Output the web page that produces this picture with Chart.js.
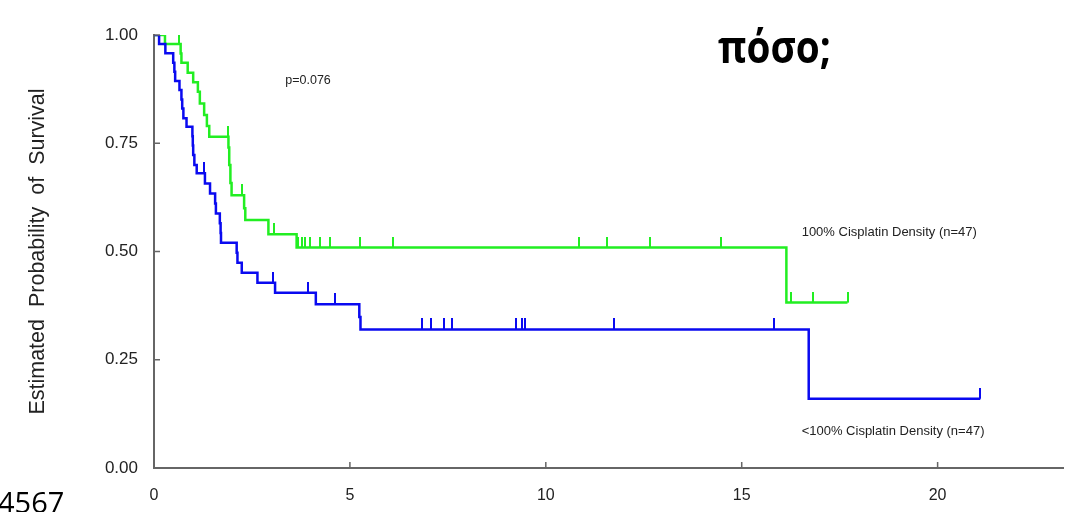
<!DOCTYPE html>
<html>
<head>
<meta charset="utf-8">
<script src="https://cdn.jsdelivr.net/npm/chart.js@4.4.1/dist/chart.umd.min.js"></script>
<style>
  body { margin: 0; background: #fff; }
  #km { display: block; }
</style>
</head>
<body>
<canvas id="km" width="1076" height="512"></canvas>
<script>
// step points (time in years, survival)
const greenTimes = [0, 0.28, 0.68, 0.70, 0.86, 1.00, 1.12, 1.17, 1.28, 1.35, 1.41, 1.90, 1.92, 1.95, 1.98, 2.30, 2.33, 2.92, 3.64, 16.14, 17.70];
const greenSurv  = [1.0, 0.979, 0.957, 0.936, 0.913, 0.891, 0.869, 0.842, 0.815, 0.790, 0.765, 0.740, 0.700, 0.658, 0.630, 0.600, 0.573, 0.540, 0.509, 0.382, 0.382];
const greenCensor = [0.64, 1.88, 2.24, 3.05, 3.68, 3.77, 3.85, 3.99, 4.23, 4.50, 5.26, 6.10, 10.84, 11.56, 12.65, 14.48, 16.27, 16.82, 17.70];

const blueTimes = [0, 0.13, 0.29, 0.49, 0.52, 0.54, 0.65, 0.70, 0.72, 0.75, 0.83, 0.98, 0.99, 1.00, 1.03, 1.09, 1.30, 1.43, 1.56, 1.58, 1.68, 1.70, 1.71, 2.11, 2.13, 2.24, 2.64, 3.09, 4.13, 5.24, 5.27, 16.71, 21.09];
const blueSurv  = [1.0, 0.979, 0.958, 0.936, 0.915, 0.894, 0.873, 0.851, 0.830, 0.808, 0.788, 0.766, 0.745, 0.723, 0.700, 0.681, 0.657, 0.634, 0.611, 0.588, 0.565, 0.543, 0.520, 0.497, 0.474, 0.451, 0.428, 0.405, 0.378, 0.349, 0.320, 0.160, 0.160];
const blueCensor = [1.28, 3.04, 3.92, 4.63, 6.83, 7.07, 7.40, 7.61, 9.23, 9.38, 9.46, 11.73, 15.82, 21.09];

const xTicks = [0, 5, 10, 15, 20];
const yTicks = [0, 0.25, 0.5, 0.75, 1.0];

const GREEN = '#22ee22';
const BLUE = '#0a0af0';
const AXIS = '#666666';
const FONT = '"Liberation Sans", Arial, sans-serif';

// survival value of a curve at time t (for placing censor marks on it)
function survAt(times, surv, t) {
  let s = surv[0];
  for (let i = 0; i < times.length; i++) {
    if (times[i] <= t) s = surv[i];
  }
  return s;
}

function tickMark(color) {
  const c = document.createElement('canvas');
  c.width = 2; c.height = 22;
  const g = c.getContext('2d');
  g.fillStyle = color;
  g.fillRect(0, 0, 2, 11);
  return c;
}

const greenLine = greenTimes.map((t, i) => ({ x: t, y: greenSurv[i] }));
const blueLine = blueTimes.map((t, i) => ({ x: t, y: blueSurv[i] }));
const greenMarks = greenCensor.map(t => ({ x: t, y: survAt(greenTimes, greenSurv, t) }));
const blueMarks = blueCensor.map(t => ({ x: t, y: survAt(blueTimes, blueSurv, t) }));

// inward tick marks + notes
const extras = {
  id: 'extras',
  afterDraw(chart) {
    const ctx = chart.ctx;
    const x = chart.scales.x, y = chart.scales.y;
    const area = chart.chartArea;
    ctx.save();
    ctx.strokeStyle = AXIS;
    ctx.lineWidth = 1.5;
    ctx.beginPath();
    yTicks.forEach(v => {
      const py = y.getPixelForValue(v);
      ctx.moveTo(area.left, py); ctx.lineTo(area.left + 6, py);
    });
    xTicks.forEach(v => {
      const px = x.getPixelForValue(v);
      ctx.moveTo(px, area.bottom); ctx.lineTo(px, area.bottom - 6);
    });
    ctx.stroke();

    ctx.fillStyle = '#222';
    ctx.textBaseline = 'middle';
    ctx.textAlign = 'left';
    ctx.font = '12.5px ' + FONT;
    ctx.fillText('p=0.076', x.getPixelForValue(3.35), y.getPixelForValue(0.895));
    ctx.font = '13px ' + FONT;
    ctx.fillText('100% Cisplatin Density (n=47)', x.getPixelForValue(16.53), y.getPixelForValue(0.545));
    ctx.fillText('<100% Cisplatin Density (n=47)', x.getPixelForValue(16.53), y.getPixelForValue(0.085));

    // slide text over the figure
    ctx.fillStyle = '#000';
    ctx.textBaseline = 'alphabetic';
    ctx.save();
    ctx.translate(718, 63);
    ctx.scale(0.88, 1);
    ctx.font = 'bold 44px "Open Sans", "Noto Sans", sans-serif';
    ctx.fillText('πόσο;', 0, 0);
    ctx.restore();
    ctx.font = '29px "Open Sans", "Noto Sans", sans-serif';
    ctx.fillText('4567', -2, 513);
    ctx.restore();
  }
};

new Chart(document.getElementById('km'), {
  type: 'line',
  data: {
    datasets: [
      { data: greenLine, borderColor: GREEN, borderWidth: 2.5, stepped: 'before', pointRadius: 0, fill: false, order: 2 },
      { data: blueLine, borderColor: BLUE, borderWidth: 2.5, stepped: 'before', pointRadius: 0, fill: false, order: 1 },
      { type: 'scatter', data: greenMarks, pointStyle: tickMark(GREEN), pointRadius: 6, showLine: false, order: 2 },
      { type: 'scatter', data: blueMarks, pointStyle: tickMark(BLUE), pointRadius: 6, showLine: false, order: 1 }
    ]
  },
  options: {
    responsive: false,
    animation: false,
    layout: { padding: { top: 35, right: 13, left: 0, bottom: 0 } },
    plugins: { legend: { display: false }, tooltip: { enabled: false } },
    scales: {
      x: {
        type: 'linear',
        min: 0,
        max: 23.2,
        afterBuildTicks: s => { s.ticks = xTicks.map(v => ({ value: v })); },
        afterFit: s => { s.height = 44; },
        grid: { display: false, drawTicks: false },
        border: { display: true, color: AXIS, width: 2 },
        ticks: { padding: 18, color: '#222', font: { family: FONT, size: 16 } }
      },
      y: {
        min: 0,
        max: 1,
        afterBuildTicks: s => { s.ticks = yTicks.map(v => ({ value: v })); },
        afterFit: s => { s.width = 154; },
        grid: { display: false, drawTicks: false },
        border: { display: true, color: AXIS, width: 2 },
        ticks: {
          padding: 16,
          color: '#222',
          font: { family: FONT, size: 17 },
          callback: v => Number(v).toFixed(2)
        },
        title: {
          display: true,
          text: 'Estimated  Probability  of  Survival',
          color: '#222',
          font: { family: FONT, size: 21.5, weight: 'normal' },
          padding: { top: 25, bottom: 0 }
        }
      }
    }
  },
  plugins: [extras]
});
</script>
</body>
</html>
